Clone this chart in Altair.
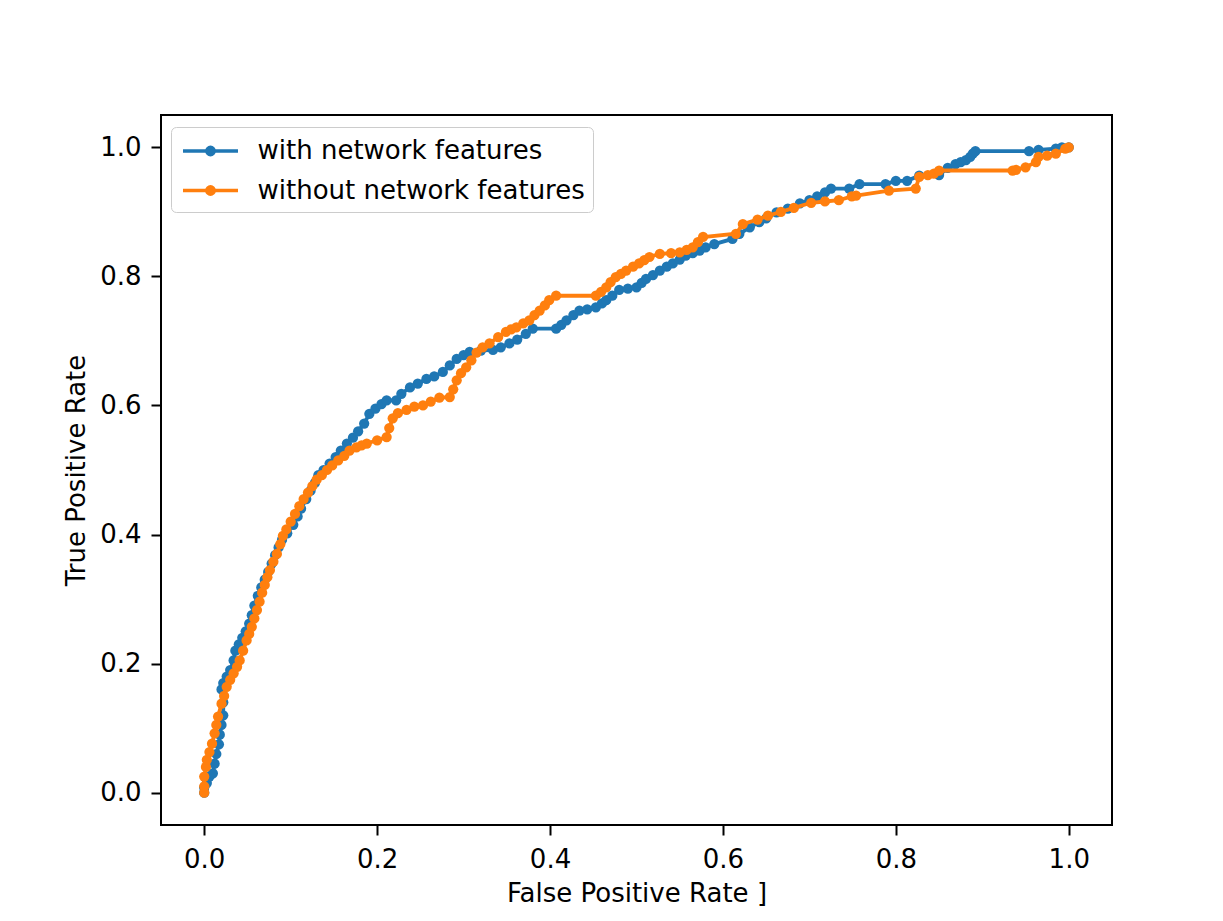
import altair as alt
import pandas as pd

series_names = ["with network features", "without network features"]
series_colors = ["#1f77b4", "#ff7f0e"]

with_fpr = [0.0, 0.0, 0.003, 0.006, 0.010, 0.012, 0.014, 0.017, 0.018, 0.020, 0.022, 0.022, 0.020, 0.022,
            0.026, 0.030, 0.034, 0.036, 0.040, 0.044, 0.048, 0.052, 0.055, 0.058, 0.062, 0.066, 0.070,
            0.074, 0.078, 0.082, 0.086, 0.090, 0.096, 0.103, 0.108, 0.112, 0.118, 0.123, 0.128, 0.132,
            0.138, 0.145, 0.152, 0.158, 0.165, 0.172, 0.178, 0.185, 0.191, 0.198, 0.205, 0.211, 0.222,
            0.228, 0.238, 0.247, 0.257, 0.266, 0.276, 0.284, 0.292, 0.300, 0.307, 0.320, 0.334, 0.343,
            0.353, 0.362, 0.372, 0.380, 0.407, 0.413, 0.419, 0.427, 0.434, 0.443, 0.453, 0.460, 0.465,
            0.472, 0.480, 0.490, 0.500, 0.506, 0.511, 0.519, 0.527, 0.535, 0.542, 0.550, 0.557, 0.565,
            0.573, 0.580, 0.590, 0.611, 0.619, 0.631, 0.642, 0.650, 0.662, 0.675, 0.689, 0.700, 0.709,
            0.718, 0.725, 0.746, 0.758, 0.788, 0.800, 0.813, 0.827, 0.850, 0.860, 0.869, 0.875, 0.881,
            0.886, 0.889, 0.892, 0.954, 0.965, 0.985, 0.992, 1.0]
with_tpr = [0.0, 0.008, 0.015, 0.025, 0.030, 0.045, 0.060, 0.075, 0.090, 0.105, 0.120, 0.140, 0.160, 0.170,
            0.180, 0.190, 0.205, 0.220, 0.230, 0.240, 0.250, 0.262, 0.275, 0.290, 0.305, 0.318, 0.330,
            0.342, 0.355, 0.368, 0.380, 0.392, 0.402, 0.415, 0.428, 0.440, 0.455, 0.468, 0.480, 0.492,
            0.500, 0.510, 0.520, 0.530, 0.541, 0.550, 0.560, 0.572, 0.587, 0.595, 0.602, 0.608, 0.608,
            0.618, 0.628, 0.634, 0.641, 0.645, 0.652, 0.662, 0.672, 0.678, 0.683, 0.685, 0.686, 0.690,
            0.696, 0.702, 0.711, 0.719, 0.719, 0.725, 0.732, 0.740, 0.747, 0.749, 0.752, 0.758, 0.763,
            0.770, 0.779, 0.781, 0.783, 0.790, 0.796, 0.802, 0.809, 0.815, 0.820, 0.826, 0.832, 0.836,
            0.840, 0.845, 0.850, 0.858, 0.866, 0.876, 0.884, 0.890, 0.899, 0.905, 0.913, 0.918, 0.924,
            0.930, 0.936, 0.936, 0.943, 0.943, 0.948, 0.948, 0.956, 0.957, 0.968, 0.974, 0.977, 0.980,
            0.985, 0.990, 0.994, 0.994, 0.996, 0.998, 1.0, 1.0]

without_fpr = [0.0, 0.0, 0.0, 0.002, 0.003, 0.006, 0.009, 0.012, 0.014, 0.016, 0.020, 0.023, 0.026, 0.030,
               0.034, 0.038, 0.041, 0.045, 0.049, 0.052, 0.055, 0.058, 0.061, 0.064, 0.067, 0.070, 0.073,
               0.076, 0.080, 0.084, 0.088, 0.091, 0.095, 0.100, 0.105, 0.110, 0.115, 0.120, 0.125, 0.130,
               0.136, 0.142, 0.148, 0.155, 0.162, 0.168, 0.176, 0.182, 0.188, 0.200, 0.211, 0.214, 0.218,
               0.224, 0.234, 0.243, 0.253, 0.262, 0.272, 0.284, 0.288, 0.292, 0.297, 0.303, 0.309, 0.315,
               0.322, 0.330, 0.340, 0.349, 0.355, 0.361, 0.369, 0.376, 0.382, 0.388, 0.394, 0.399, 0.407,
               0.453, 0.459, 0.465, 0.470, 0.476, 0.482, 0.488, 0.496, 0.503, 0.509, 0.515, 0.527, 0.540,
               0.550, 0.558, 0.565, 0.571, 0.577, 0.615, 0.623, 0.640, 0.652, 0.667, 0.682, 0.702, 0.718,
               0.734, 0.749, 0.754, 0.792, 0.823, 0.827, 0.837, 0.844, 0.850, 0.935, 0.939, 0.950, 0.962,
               0.965, 0.975, 0.985, 0.996, 1.0]
without_tpr = [0.0, 0.010, 0.025, 0.040, 0.051, 0.063, 0.076, 0.092, 0.105, 0.118, 0.138, 0.150, 0.164, 0.175,
               0.185, 0.195, 0.205, 0.220, 0.236, 0.246, 0.257, 0.270, 0.283, 0.296, 0.310, 0.322, 0.334,
               0.345, 0.358, 0.370, 0.385, 0.398, 0.408, 0.420, 0.432, 0.444, 0.455, 0.465, 0.475, 0.485,
               0.492, 0.500, 0.507, 0.515, 0.522, 0.530, 0.535, 0.538, 0.541, 0.546, 0.551, 0.565, 0.580,
               0.588, 0.593, 0.598, 0.600, 0.606, 0.612, 0.613, 0.625, 0.639, 0.650, 0.659, 0.670, 0.682,
               0.690, 0.696, 0.706, 0.714, 0.718, 0.721, 0.727, 0.732, 0.740, 0.747, 0.755, 0.763, 0.770,
               0.770, 0.776, 0.783, 0.791, 0.799, 0.804, 0.809, 0.815, 0.820, 0.825, 0.830, 0.835, 0.836,
               0.837, 0.841, 0.845, 0.853, 0.861, 0.866, 0.881, 0.888, 0.894, 0.900, 0.906, 0.914, 0.916,
               0.918, 0.924, 0.925, 0.933, 0.936, 0.954, 0.957, 0.959, 0.964, 0.964, 0.965, 0.969, 0.977,
               0.985, 0.987, 0.990, 0.998, 1.0]

x_ticks = [0.0, 0.2, 0.4, 0.6, 0.8, 1.0]
y_ticks = [0.0, 0.2, 0.4, 0.6, 0.8, 1.0]

frames = []
for name, fx, ty in [(series_names[0], with_fpr, with_tpr), (series_names[1], without_fpr, without_tpr)]:
    frames.append(pd.DataFrame({"fpr": fx, "tpr": ty, "series": name, "idx": list(range(len(fx)))}))
df = pd.concat(frames, ignore_index=True)

FONT = "DejaVu Sans"
# line + dot legend glyph; path units scaled by sqrt(symbolSize)/2
legend_path = "M-2,0H2M-0.26,0A0.26,0.26,0,1,1,0.26,0A0.26,0.26,0,1,1,-0.26,0Z"

legend = alt.Legend(
    title=None, orient="none", legendX=10, legendY=12,
    symbolType=legend_path, symbolSize=756, symbolStrokeWidth=3.7, symbolOffset=15.5,
    symbolOpacity=1, labelOffset=31, labelFontSize=26, labelFont=FONT, labelColor="black",
    labelLimit=500, padding=8, rowPadding=10.5, fillColor="rgba(255,255,255,0.8)",
    strokeColor="#cccccc", cornerRadius=5,
)

xenc = alt.X("fpr:Q", scale=alt.Scale(domain=[-0.05, 1.05], nice=False, zero=False),
             axis=alt.Axis(title="False Positive Rate ]", values=x_ticks, format=".1f",
                           labelPadding=11, titlePadding=8))
yenc = alt.Y("tpr:Q", scale=alt.Scale(domain=[-0.05, 1.05], nice=False, zero=False),
             axis=alt.Axis(title="True Positive Rate", values=y_ticks, format=".1f",
                           labelPadding=10, titlePadding=10))
cenc = alt.Color("series:N", scale=alt.Scale(domain=series_names, range=series_colors), legend=legend)

base = alt.Chart(df)
layers = []
for name in series_names:
    sub = base.transform_filter(alt.datum.series == name)
    layers.append(sub.mark_line(strokeWidth=3.8, opacity=1).encode(
        x=xenc, y=yenc, color=cenc, order=alt.Order("idx:Q")))
    layers.append(sub.mark_point(filled=True, size=105, opacity=1).encode(
        x=xenc, y=yenc, color=cenc))

chart = alt.layer(*layers).properties(
    width=951, height=710,
    padding={"left": 153, "top": 107, "right": 100, "bottom": 90},
    autosize=alt.AutoSizeParams(type="none"),
    background="white",
).configure_view(
    stroke="black", strokeWidth=2
).configure_axis(
    domain=False, grid=False, labelFont=FONT, titleFont=FONT, labelFontSize=26, titleFontSize=26,
    titleFontWeight="normal", labelColor="black", titleColor="black", tickColor="black",
    tickWidth=2, tickSize=10,
)

chart.save("out.html", embed_options={"renderer": "svg", "actions": False})
